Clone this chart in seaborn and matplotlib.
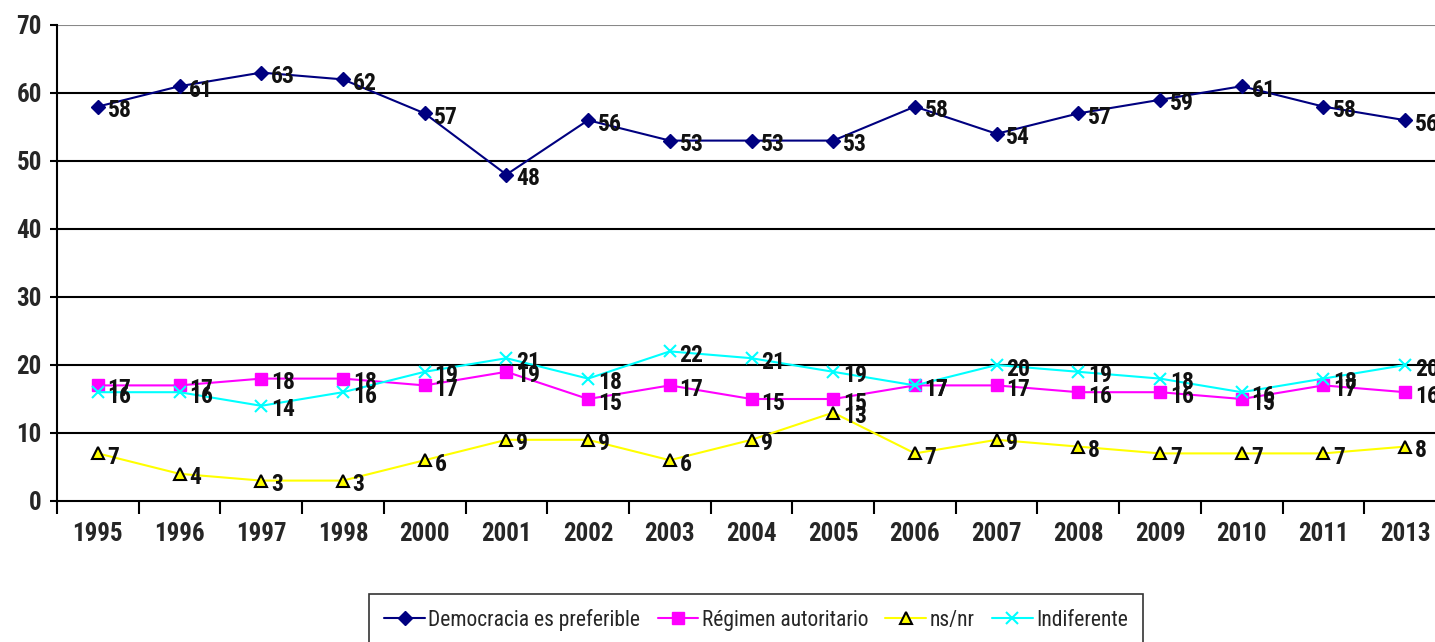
import matplotlib
matplotlib.use("Agg")
import matplotlib.pyplot as plt
import seaborn as sns
import pandas as pd
from matplotlib.ticker import FixedLocator

years = ["1995", "1996", "1997", "1998", "2000", "2001", "2002", "2003", "2004",
         "2005", "2006", "2007", "2008", "2009", "2010", "2011", "2013"]
democracia = [58, 61, 63, 62, 57, 48, 56, 53, 53, 53, 58, 54, 57, 59, 61, 58, 56]
autoritario = [17, 17, 18, 18, 17, 19, 15, 17, 15, 15, 17, 17, 16, 16, 15, 17, 16]
nsnr = [7, 4, 3, 3, 6, 9, 9, 6, 9, 13, 7, 9, 8, 7, 7, 7, 8]
indiferente = [16, 16, 14, 16, 19, 21, 18, 22, 21, 19, 17, 20, 19, 18, 16, 18, 20]

series_names = ["Democracia es preferible", "Régimen autoritario", "ns/nr", "Indiferente"]
series_vals = [democracia, autoritario, nsnr, indiferente]

sns.set_theme(style="white")
FONT = ["Roboto Condensed", "DejaVu Sans"]
plt.rcParams["font.family"] = FONT

fig = plt.figure(figsize=(14.35, 6.42), dpi=100)
ax = fig.add_axes([57 / 1435, (642 - 501) / 642, 1389 / 1435, (501 - 25) / 642])

styles = [
    dict(color="#000080", marker="D", ms=7, mfc="#000080", mec="#000080", mew=1),
    dict(color="#FF00FF", marker="s", ms=9, mfc="#FF00FF", mec="#FF00FF", mew=1),
    dict(color="#FFFF00", marker="^", ms=8, mfc="#FFFF00", mec="#000000", mew=1.5),
    dict(color="#00FFFF", marker="x", ms=9, mfc="#00FFFF", mec="#00FFFF", mew=1.5),
]

for name, vals, st in zip(series_names, series_vals, styles):
    df = pd.DataFrame({"year": years, "value": vals})
    sns.lineplot(data=df, x="year", y="value", ax=ax, sort=False, label=name,
                 color=st["color"], marker=st["marker"], markersize=st["ms"],
                 markerfacecolor=st["mfc"], markeredgecolor=st["mec"],
                 markeredgewidth=st["mew"], linewidth=1.5)
    for i, v in enumerate(vals):
        ax.annotate(str(v), (i, v), xytext=(7, -3), textcoords="offset points",
                    ha="left", va="center", fontsize=17, fontweight="bold",
                    color="#111111", family=FONT)

ax.set_xlim(-0.5, len(years) - 0.5)
ax.set_ylim(0, 70)
ax.set_yticks(range(0, 71, 10))
ax.set_xticks(range(len(years)))
ax.set_xticklabels(years)
ax.xaxis.set_minor_locator(FixedLocator([i + 0.5 for i in range(-1, len(years))]))
ax.tick_params(axis="x", which="major", length=0, pad=15, labelsize=18)
ax.tick_params(axis="x", which="minor", length=9, width=1.5, direction="out", bottom=True, color="black")
ax.tick_params(axis="y", which="major", length=5, width=1.5, direction="out", left=True, labelsize=18, pad=6, color="black")
for lab in ax.get_xticklabels() + ax.get_yticklabels():
    lab.set_fontweight("bold")
    lab.set_family(FONT)

for y in range(10, 70, 10):
    ax.axhline(y, color="black", linewidth=1.5, zorder=0)
ax.axhline(70, color="#888888", linewidth=1.5, zorder=0)
ax.set_xlabel("")
ax.set_ylabel("")
ax.grid(False)
for side in ["top", "right"]:
    ax.spines[side].set_visible(False)
ax.spines["left"].set_color("black")
ax.spines["left"].set_linewidth(1.5)
ax.spines["bottom"].set_color("black")
ax.spines["bottom"].set_linewidth(1.5)

handles, labels = ax.get_legend_handles_labels()
if ax.get_legend():
    ax.get_legend().remove()
leg = fig.legend(handles, labels, loc="center", bbox_to_anchor=(756 / 1435, 1 - 620 / 642),
                 ncol=4, frameon=True, fancybox=False, edgecolor="black",
                 handlelength=1.9, columnspacing=0.8, handletextpad=0.15, borderpad=0.7,
                 prop={"family": FONT, "size": 15.5})
leg.get_frame().set_linewidth(1.2)

fig.savefig("out.png", dpi=100)
